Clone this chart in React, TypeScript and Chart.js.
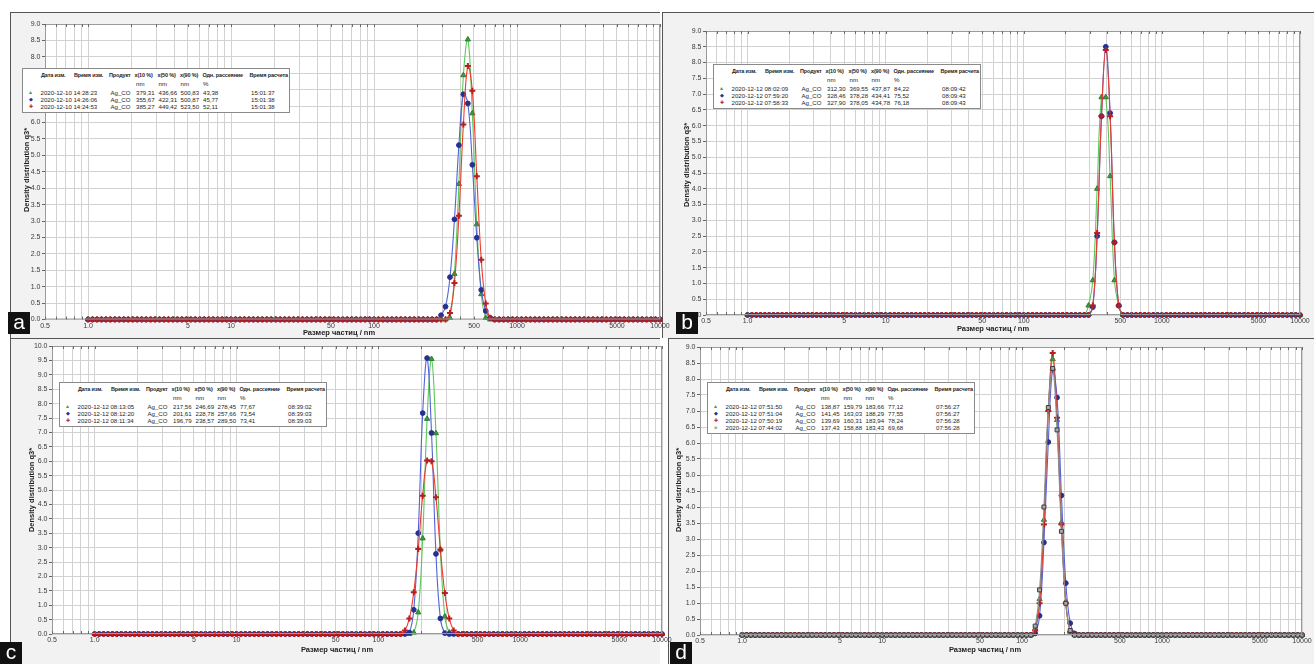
import React, { useEffect, useRef } from "react";
import { Chart, registerables } from "chart.js";
Chart.register(...registerables);

// Size classes (nm), 32 classes per decade from 1 to 10000
const sizeClasses = [
  1, 1.075, 1.155, 1.241, 1.334, 1.433, 1.54, 1.655, 1.778, 1.911, 2.054, 2.207, 2.371, 2.548, 2.738, 2.943,
  3.162, 3.398, 3.652, 3.924, 4.217, 4.532, 4.87, 5.233, 5.623, 6.043, 6.494, 6.978, 7.499, 8.058, 8.66, 9.306,
  10, 10.75, 11.55, 12.41, 13.34, 14.33, 15.4, 16.55, 17.78, 19.11, 20.54, 22.07, 23.71, 25.48, 27.38, 29.43,
  31.62, 33.98, 36.52, 39.24, 42.17, 45.32, 48.7, 52.33, 56.23, 60.43, 64.94, 69.78, 74.99, 80.58, 86.6, 93.06,
  100, 107.5, 115.5, 124.1, 133.4, 143.3, 154, 165.5, 177.8, 191.1, 205.4, 220.7, 237.1, 254.8, 273.8, 294.3,
  316.2, 339.8, 365.2, 392.4, 421.7, 453.2, 487, 523.3, 562.3, 604.3, 649.4, 697.8, 749.9, 805.8, 866, 930.6,
  1000, 1075, 1155, 1241, 1334, 1433, 1540, 1655, 1778, 1911, 2054, 2207, 2371, 2548, 2738, 2943,
  3162, 3398, 3652, 3924, 4217, 4532, 4870, 5233, 5623, 6043, 6494, 6978, 7499, 8058, 8660, 9306, 10000,
];

const xLabelValues = [0.5, 1, 5, 10, 50, 100, 500, 1000, 5000, 10000];
const xGridValues = [
  0.5, 0.6, 0.7, 0.8, 0.9, 1, 2, 3, 4, 5, 6, 7, 8, 9, 10, 20, 30, 40, 50, 60, 70, 80, 90, 100, 200, 300, 400,
  500, 600, 700, 800, 900, 1000, 2000, 3000, 4000, 5000, 6000, 7000, 8000, 9000, 10000,
];

// Non-zero parts of each density distribution q3* (start = index into sizeClasses); zero elsewhere
const aGreenStart = 81;
const aGreen = [0.05, 1.39, 4.13, 7.44, 8.53, 6.28, 2.9, 0.77, 0.05];
const aBlueStart = 79;
const aBlue = [0.13, 0.39, 1.29, 3.05, 5.31, 6.86, 6.58, 4.71, 2.49, 0.9, 0.26, 0.05];
const aRedStart = 81;
const aRed = [0.2, 1.11, 3.16, 5.94, 7.72, 6.97, 4.36, 1.82, 0.49, 0.05];

const bGreenStart = 79;
const bGreen = [0.3, 1.1, 4.0, 6.9, 6.9, 4.4, 1.1, 0.3];
const bBlueStart = 80;
const bBlue = [0.25, 2.5, 6.3, 8.5, 6.4, 2.3, 0.3];
const bRedStart = 80;
const bRed = [0.3, 2.6, 6.3, 8.4, 6.3, 2.3, 0.3];

const cGreenStart = 72;
const cGreen = [0.05, 0.75, 3.32, 7.47, 9.55, 6.97, 2.93, 0.61, 0.05];
const cBlueStart = 71;
const cBlue = [0.05, 0.84, 3.5, 7.67, 9.58, 6.98, 2.78, 0.54, 0.03];
const cRedStart = 70;
const cRed = [0.12, 0.54, 1.45, 2.95, 4.8, 6.02, 6.0, 4.75, 2.93, 1.42, 0.54, 0.12];

const dGreenStart = 67;
const dGreen = [0.2, 1.12, 3.6, 7.03, 8.62, 6.72, 3.52, 1.04, 0.1];
const dBlueStart = 67;
const dBlue = [0.05, 0.6, 2.89, 6.03, 8.29, 7.42, 4.36, 1.62, 0.37, 0.05];
const dRedStart = 67;
const dRed = [0.14, 0.99, 3.45, 7.0, 8.81, 6.79, 3.45, 0.99, 0.1];
const dGrayStart = 67;
const dGray = [0.28, 1.41, 4.0, 7.11, 8.33, 6.41, 3.24, 0.99, 0.14];

const legendHeaders = ["Дата изм.", "Время изм.", "Продукт", "x(10 %)", "x(50 %)", "x(90 %)", "Одн. рассеяние", "Время расчета"];
const legendUnits = ["", "", "", "nm", "nm", "nm", "%", ""];
const aRows = [
  ["2020-12-10", "14:28:23", "Ag_CO", "379,31", "436,66", "500,83", "43,38", "15:01:37"],
  ["2020-12-10", "14:26:06", "Ag_CO", "355,67", "422,31", "500,87", "45,77", "15:01:38"],
  ["2020-12-10", "14:24:53", "Ag_CO", "385,27", "449,42", "523,50", "52,11", "15:01:38"],
];
const bRows = [
  ["2020-12-12", "08:02:09", "Ag_CO", "312,30", "369,55", "437,87", "84,22", "08:09:42"],
  ["2020-12-12", "07:59:20", "Ag_CO", "328,46", "378,28", "434,41", "75,52", "08:09:43"],
  ["2020-12-12", "07:58:33", "Ag_CO", "327,90", "378,05", "434,78", "76,18", "08:09:43"],
];
const cRows = [
  ["2020-12-12", "08:13:05", "Ag_CO", "217,56", "246,69", "278,45", "77,67", "08:39:02"],
  ["2020-12-12", "08:12:20", "Ag_CO", "201,61", "228,78", "257,66", "73,54", "08:39:03"],
  ["2020-12-12", "08:11:34", "Ag_CO", "196,79", "238,57", "289,50", "73,41", "08:39:03"],
];
const dRows = [
  ["2020-12-12", "07:51:50", "Ag_CO", "138,87", "159,79", "183,66", "77,12", "07:56:27"],
  ["2020-12-12", "07:51:04", "Ag_CO", "141,45", "163,03", "188,29", "77,55", "07:56:27"],
  ["2020-12-12", "07:50:19", "Ag_CO", "139,69", "160,31", "183,94", "78,24", "07:56:28"],
  ["2020-12-12", "07:44:02", "Ag_CO", "137,43", "158,88", "183,43", "69,68", "07:56:28"],
];

const xTitle = "Размер частиц / nm";
const yTitle = "Density distribution q3*";

const STYLES: Record<string, any> = {
  green: { line: "#5cc85c", fill: "#3c9c3c", border: "#2e7d2e", style: "triangle", r: 3, bw: 1, sym: "▲" },
  blue: { line: "#5462d8", fill: "#26308e", border: "#26308e", style: "circle", r: 2.4, bw: 1, sym: "◆" },
  red: { line: "#ee3a2c", fill: "#b81e1e", border: "#b81e1e", style: "cross", r: 3, bw: 2, sym: "✚" },
  gray: { line: "#8c8c8c", fill: "#a8a8a8", border: "#3c3c3c", style: "rect", r: 2.8, bw: 1, sym: "■" },
};

function expand(start: number, values: number[]) {
  return sizeClasses.map((_, i) => (i >= start && i < start + values.length ? values[i - start] : 0));
}

const PANELS = [
  {
    key: "a",
    frame: { l: 10, t: 12, r: 660, b: 338 },
    canvas: { l: 10, t: 12, r: 680, b: 338 },
    plot: { l: 45, r: 660, t: 24, b: 319.5 },
    ymax: 9,
    series: [
      { c: "green", s: aGreenStart, v: aGreen, order: 2 },
      { c: "blue", s: aBlueStart, v: aBlue, order: 1 },
      { c: "red", s: aRedStart, v: aRed, order: 0 },
    ],
    rows: aRows,
    legend: { l: 22, t: 68 },
    yT: { x: 27, y: 170 },
    xT: { x: 339, y: 333 },
    letter: { l: 8, t: 312 },
  },
  {
    key: "b",
    frame: { l: 662, t: 12, r: 1314, b: 338 },
    canvas: { l: 662, t: 12, r: 1314, b: 338 },
    plot: { l: 706, r: 1300, t: 31, b: 315 },
    ymax: 9,
    series: [
      { c: "green", s: bGreenStart, v: bGreen, order: 2 },
      { c: "blue", s: bBlueStart, v: bBlue, order: 1 },
      { c: "red", s: bRedStart, v: bRed, order: 0 },
    ],
    rows: bRows,
    legend: { l: 713, t: 64 },
    yT: { x: 687, y: 165 },
    xT: { x: 993, y: 329 },
    letter: { l: 676, t: 312 },
  },
  {
    key: "c",
    frame: { l: 10, t: 338, r: 660, b: 664 },
    canvas: { l: 10, t: 338, r: 680, b: 664 },
    plot: { l: 52, r: 662, t: 346, b: 634 },
    ymax: 10,
    series: [
      { c: "green", s: cGreenStart, v: cGreen, order: 2 },
      { c: "blue", s: cBlueStart, v: cBlue, order: 1 },
      { c: "red", s: cRedStart, v: cRed, order: 0 },
    ],
    rows: cRows,
    legend: { l: 59, t: 382 },
    yT: { x: 32, y: 490 },
    xT: { x: 337, y: 650 },
    letter: { l: 0, t: 642 },
  },
  {
    key: "d",
    frame: { l: 668, t: 338, r: 1314, b: 664 },
    canvas: { l: 668, t: 338, r: 1314, b: 664 },
    plot: { l: 700, r: 1302, t: 347, b: 635 },
    ymax: 9,
    series: [
      { c: "green", s: dGreenStart, v: dGreen, order: 3 },
      { c: "blue", s: dBlueStart, v: dBlue, order: 2 },
      { c: "red", s: dRedStart, v: dRed, order: 1 },
      { c: "gray", s: dGrayStart, v: dGray, order: 0 },
    ],
    rows: dRows,
    legend: { l: 707, t: 382 },
    yT: { x: 679, y: 490 },
    xT: { x: 985, y: 650 },
    letter: { l: 670, t: 642 },
  },
];

const FONT = "'Liberation Sans', Arial, sans-serif";

const plotPlugin = {
  id: "plotFrame",
  beforeDraw(chart: any) {
    const { ctx, chartArea: a } = chart;
    ctx.save();
    ctx.fillStyle = "#ffffff";
    ctx.fillRect(a.left, a.top, a.right - a.left, a.bottom - a.top);
    ctx.restore();
  },
  afterDatasetsDraw(chart: any) {
    const { ctx, chartArea: a } = chart;
    const xs = chart.scales.x;
    ctx.save();
    ctx.strokeStyle = "#9a9a9a";
    ctx.lineWidth = 1;
    ctx.strokeRect(a.left + 0.5, a.top + 0.5, a.right - a.left - 1, a.bottom - a.top - 1);
    ctx.strokeStyle = "#6a6a6a";
    ctx.beginPath();
    for (const v of xGridValues) {
      const px = Math.round(xs.getPixelForValue(v)) + 0.5;
      ctx.moveTo(px, a.top);
      ctx.lineTo(px, a.top + 3);
      ctx.moveTo(px, a.bottom);
      ctx.lineTo(px, a.bottom - 3);
    }
    ctx.stroke();
    ctx.restore();
  },
};

function fmtX(v: number) {
  if (v === 0.5) return "0.5";
  if (v === 1) return "1.0";
  return String(v);
}

function PanelChart({ p }: { p: any }) {
  const ref = useRef<HTMLCanvasElement | null>(null);
  const w = p.canvas.r - p.canvas.l;
  const h = p.canvas.b - p.canvas.t;
  useEffect(() => {
    if (!ref.current) return;
    const datasets = p.series.map((s: any) => {
      const st = STYLES[s.c];
      const vals = expand(s.s, s.v);
      return {
        data: sizeClasses.map((x, i) => ({ x, y: vals[i] })),
        borderColor: st.line,
        borderWidth: 1.1,
        backgroundColor: st.fill,
        pointStyle: st.style,
        pointRadius: st.r,
        pointBackgroundColor: st.fill,
        pointBorderColor: st.border,
        pointBorderWidth: st.bw,
        tension: 0.4,
        fill: false,
        clip: 6,
        order: s.order,
      };
    });
    const chart = new Chart(ref.current, {
      type: "line",
      data: { datasets },
      options: {
        animation: false,
        responsive: false,
        devicePixelRatio: 1,
        events: [],
        layout: {
          padding: { left: 0, top: p.plot.t - p.canvas.t, right: p.canvas.r - p.plot.r, bottom: 0 },
        },
        plugins: { legend: { display: false }, tooltip: { enabled: false }, title: { display: false } },
        scales: {
          x: {
            type: "logarithmic",
            min: 0.5,
            max: 10000,
            afterBuildTicks: (s: any) => {
              s.ticks = xGridValues.map((v) => ({ value: v }));
            },
            afterFit: (s: any) => {
              s.height = p.canvas.b - p.plot.b;
              s.paddingLeft = 0;
              s.paddingRight = 0;
            },
            ticks: {
              autoSkip: false,
              maxRotation: 0,
              minRotation: 0,
              padding: 2,
              color: "#3a3a3a",
              font: { family: FONT, size: 7 },
              callback: (v: any) => (xLabelValues.includes(Number(v)) ? fmtX(Number(v)) : ""),
            },
            grid: { color: "#d2d2d2", drawTicks: false, lineWidth: 1 },
            border: { display: false },
          },
          y: {
            type: "linear",
            min: 0,
            max: p.ymax,
            afterFit: (s: any) => {
              s.width = p.plot.l - p.canvas.l;
              s.paddingTop = 0;
              s.paddingBottom = 0;
            },
            ticks: {
              stepSize: 0.5,
              padding: 1.5,
              color: "#3a3a3a",
              font: { family: FONT, size: 7 },
              callback: (v: any) => Number(v).toFixed(1),
            },
            grid: { color: "#d2d2d2", tickColor: "#666666", tickLength: 3, lineWidth: 1 },
            border: { display: false },
          },
        },
      },
      plugins: [plotPlugin],
    } as any);
    return () => chart.destroy();
  }, []);
  return (
    <canvas
      ref={ref}
      width={w}
      height={h}
      style={{ position: "absolute", left: p.canvas.l, top: p.canvas.t, width: w, height: h }}
    />
  );
}

const colHead = [18, 51, 86, 111.5, 134.5, 157, 179.5, 226.5];
const colVal = [17.6, 56.5, 87.5, 113, 135.5, 157.5, 180, 228];

function Legend({ p }: { p: any }) {
  const n = p.rows.length;
  const rowH = 7.2;
  const height = 23 + n * rowH;
  const txt = (left: number, top: number, s: string, bold = false, key = "") => (
    <span
      key={key}
      style={{
        position: "absolute",
        left,
        top,
        whiteSpace: "nowrap",
        fontWeight: bold ? 700 : 400,
        lineHeight: "7px",
        fontSize: bold ? "5.5px" : "6.1px",
        letterSpacing: bold ? "-0.15px" : "0px",
      }}
    >
      {s}
    </span>
  );
  return (
    <div
      style={{
        position: "absolute",
        left: p.legend.l,
        top: p.legend.t,
        width: 268,
        height,
        background: "#ffffff",
        border: "1px solid #8a8a8a",
        boxSizing: "border-box",
        fontFamily: FONT,
        fontSize: "6.1px",
        color: "#1e1e1e",
      }}
    >
      {legendHeaders.map((hd, i) => txt(colHead[i], 3, hd, true, "h" + i))}
      {legendUnits.map((u, i) => (u ? txt(colVal[i], 11, u, false, "u" + i) : null))}
      {p.rows.map((r: string[], ri: number) => {
        const st = STYLES[p.series[ri].c];
        return (
          <React.Fragment key={"r" + ri}>
            <span
              style={{
                position: "absolute",
                left: 3,
                top: 19.5 + ri * rowH,
                width: 9,
                textAlign: "center",
                color: st.fill,
                fontSize: "5px",
                lineHeight: "7px",
              }}
            >
              {st.sym}
            </span>
            {txt(colVal[0], 19.5 + ri * rowH, r[0] + " " + r[1], false, "d" + ri)}
            {r.slice(2).map((c, ci) => txt(colVal[ci + 2], 19.5 + ri * rowH, c, false, "c" + ri + "_" + ci))}
          </React.Fragment>
        );
      })}
    </div>
  );
}

export default function App() {
  return (
    <div
      style={{
        position: "fixed",
        left: 0,
        top: 0,
        width: 1314,
        height: 664,
        background: "#ffffff",
        overflow: "hidden",
        fontFamily: FONT,
      }}
    >
      {PANELS.map((p) => (
        <div
          key={"f" + p.key}
          style={{
            position: "absolute",
            left: p.frame.l,
            top: p.frame.t,
            width: p.frame.r - p.frame.l,
            height: p.frame.b - p.frame.t,
            background: "#f2f2f2",
            borderLeft: "1px solid #555",
            borderTop: "1px solid #555",
            boxSizing: "border-box",
          }}
        />
      ))}
      {PANELS.map((p) => (
        <PanelChart key={"c" + p.key} p={p} />
      ))}
      {PANELS.map((p) => (
        <React.Fragment key={"t" + p.key}>
          <div
            style={{
              position: "absolute",
              left: p.xT.x - 100,
              top: p.xT.y - 5,
              width: 200,
              textAlign: "center",
              fontSize: "7.5px",
              fontWeight: 700,
              color: "#222",
              lineHeight: "10px",
            }}
          >
            {xTitle}
          </div>
          <div
            style={{
              position: "absolute",
              left: p.yT.x - 100,
              top: p.yT.y - 5,
              width: 200,
              textAlign: "center",
              fontSize: "7.5px",
              fontWeight: 700,
              color: "#222",
              lineHeight: "10px",
              transform: "rotate(-90deg)",
            }}
          >
            {yTitle}
          </div>
          <Legend p={p} />
          <div
            style={{
              position: "absolute",
              left: p.letter.l,
              top: p.letter.t,
              width: 22,
              height: 22,
              background: "#111",
              color: "#fff",
              fontSize: "21px",
              lineHeight: "20px",
              textAlign: "center",
              fontFamily: "'Liberation Sans', Arial, sans-serif",
            }}
          >
            {p.key}
          </div>
        </React.Fragment>
      ))}
    </div>
  );
}
